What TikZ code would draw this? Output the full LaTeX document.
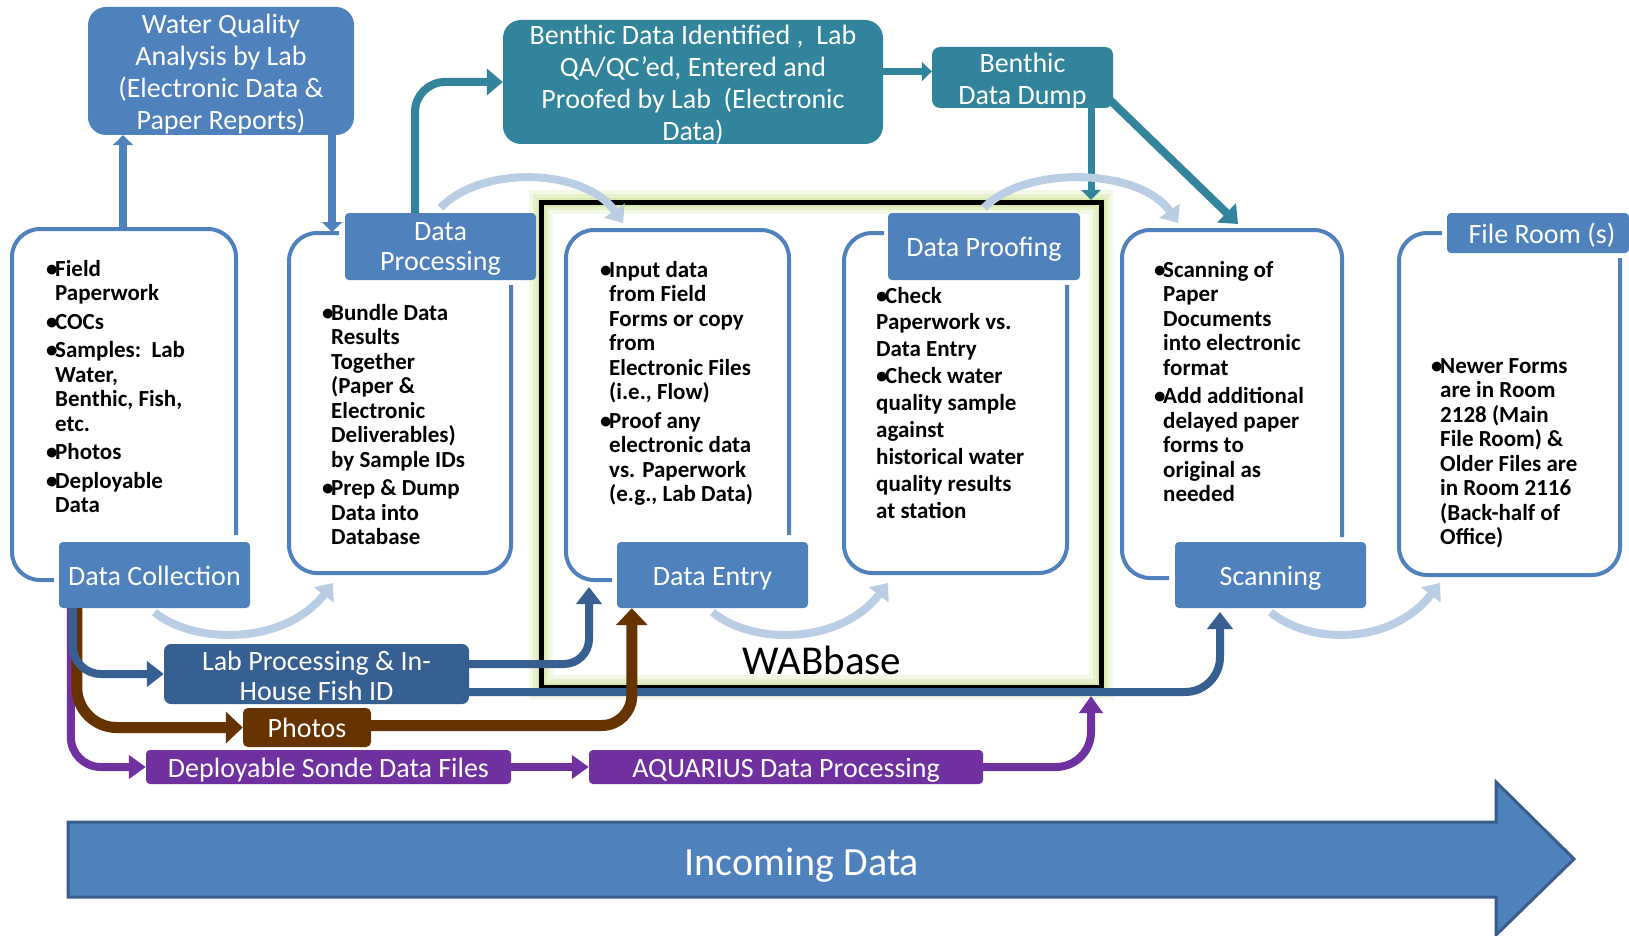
\documentclass[tikz,border=0pt]{standalone}
\usepackage{fontspec}
\setmainfont{Carlito}
\usetikzlibrary{arrows.meta}
\definecolor{mblue}{HTML}{4F81BD}
\definecolor{tealc}{HTML}{31849B}
\definecolor{dblue}{HTML}{376092}
\definecolor{brownc}{HTML}{663300}
\definecolor{purp}{HTML}{7030A0}
\definecolor{lightarc}{HTML}{B9CDE5}
\definecolor{arrowborder}{HTML}{385D8A}
\definecolor{glowa}{HTML}{F3F8E6}
\definecolor{glowb}{HTML}{E6F1C9}
\definecolor{glowc}{HTML}{D9E9AF}
\newcommand{\bi}{\par\hangindent=9pt\hangafter=1\noindent\makebox[9pt][l]{•}}
\newcommand{\bj}{\par\noindent\makebox[9pt][l]{•}}
\newcommand{\bodybox}[1]{\parbox[t]{250pt}{\raggedright\setlength{\parskip}{4pt}#1}}
\newcommand{\bodyboxtight}[1]{\parbox[t]{250pt}{\raggedright\setlength{\parskip}{0pt}#1}}
\begin{document}
\begin{tikzpicture}[x=1pt,y=-1pt]
\tikzset{
 lbl/.style={fill=mblue, text=white, rounded corners=4pt, inner sep=0pt, align=center, font=\fontsize{28}{30}\selectfont},
 one/.style={text height=20pt, text depth=0pt},
 bigbox/.style={lbl, font=\fontsize{28}{32}\selectfont, rounded corners=18pt},
 tealbox/.style={bigbox, fill=tealc},
 outl/.style={draw=mblue, line width=4pt, rounded corners=28pt},
 bodytxt/.style={anchor=base west, inner sep=0pt, font=\fontsize{23}{24.5}\selectfont\bfseries},
 blarrow/.style={draw=mblue, line width=8pt, -{Triangle[width=20pt,length=10pt]}},
 tlarrow/.style={draw=tealc, line width=8pt, -{Triangle[width=26pt,length=16pt]}},
 tlsmall/.style={draw=tealc, line width=7pt, -{Triangle[width=19pt,length=10pt]}},
 arcarrow/.style={draw=lightarc, line width=8pt, -{Triangle[width=24pt,length=15pt]}},
 dbarrow/.style={draw=dblue, line width=8pt, -{Triangle[width=25pt,length=17pt]}},
 brarrow/.style={draw=brownc, line width=11pt, -{Triangle[width=31pt,length=17pt]}},
 puarrow/.style={draw=purp, line width=8pt, -{Triangle[width=23pt,length=17pt]}},
}
\fill[white] (0,0) rectangle (1629,936);
\useasboundingbox (0,0) rectangle (1629,936);

% WABbase region
\draw[glowa, line width=24pt] (541,202) rectangle (1101,687);
\draw[glowb, line width=16pt] (541,202) rectangle (1101,687);
\draw[glowc, line width=9pt] (541,202) rectangle (1101,687);
\node[draw=black, line width=5pt, minimum width=560pt, minimum height=485pt, inner sep=0pt] (wab) at (821,444.5) {};
\node[font=\fontsize{41}{41}\selectfont, inner sep=0pt] (wabt) at (822,660) {WABbase};

% outline boxes
\draw[outl] (236,535) -- (236,229) -- (12,229) -- (12,580) -- (54,580);
\draw[outl] (339,233) -- (289,233) -- (289,573) -- (511,573) -- (511,285);
\draw[outl] (789,535) -- (789,230) -- (566,230) -- (566,580) -- (612,580);
\draw[outl] (884,233) -- (844,233) -- (844,573) -- (1067,573) -- (1067,285);
\draw[outl] (1342,537) -- (1342,230) -- (1122,230) -- (1122,578) -- (1169,578);
\draw[outl] (1442,233) -- (1399,233) -- (1399,575) -- (1620,575) -- (1620,258);

% body texts
\node[bodytxt] (dctxt) at (46,276) {\bodybox{%
\bi Field\newline Paperwork
\bi COCs
\bi Samples:\ \ Lab\newline Water,\newline Benthic, Fish,\newline etc.
\bi Photos
\bi Deployable\newline Data}};
\node[bodytxt] (dptxt) at (322,320) {\bodybox{%
\bi Bundle Data\newline Results\newline Together\newline (Paper \&\newline Electronic\newline Deliverables)\newline by Sample IDs
\bi Prep \& Dump\newline Data into\newline Database}};
\node[bodytxt] (detxt) at (600,277) {\bodybox{%
\bi Input data\newline from Field\newline Forms or copy\newline from\newline Electronic Files\newline (i.e., Flow)
\bi Proof any\newline electronic data\newline vs. Paperwork\newline (e.g., Lab Data)}};
\node[bodytxt, font=\fontsize{23}{26.9}\selectfont\bfseries] (dpftxt) at (876,303) {\bodyboxtight{%
\bj Check\newline Paperwork vs.\newline Data Entry
\bj Check water\newline quality sample\newline against\newline historical water\newline quality results\newline at station}};
\node[bodytxt] (sctxt) at (1154,277) {\bodybox{%
\bi Scanning of\newline Paper\newline Documents\newline into electronic\newline format
\bi Add additional\newline delayed paper\newline forms to\newline original as\newline needed}};
\node[bodytxt] (frtxt) at (1431,373) {\bodybox{%
\bi Newer Forms\newline are in Room\newline 2128 (Main\newline File Room) \&\newline Older Files are\newline in Room 2116\newline (Back-half of\newline Office)}};

% label boxes
\node[lbl, one, minimum width=191pt, minimum height=66pt] (dc) at (154.5,575) {Data Collection};
\node[lbl, minimum width=191pt, minimum height=67pt] (dpl) at (440.5,246.5) {};
\node[lbl, inner sep=0pt] (dplt) at (440.5,248.5) {Data\\Processing};
\node[lbl, one, minimum width=191pt, minimum height=66pt] (de) at (712.5,575) {Data Entry};
\node[lbl, one, minimum width=192pt, minimum height=67pt] (dpf) at (984,246.5) {Data Proofing};
\node[lbl, one, minimum width=191pt, minimum height=66pt] (scan) at (1270.5,575) {Scanning};
\node[lbl, one, minimum width=182pt, minimum height=40pt] (fr) at (1538,233) {\hspace*{8pt}File Room (s)};

% top boxes
\node[bigbox, minimum width=266pt, minimum height=128pt] (wq) at (221,71) {};
\node[bigbox, fill=none, inner sep=0pt] (wqt) at (221,74) {Water Quality\\Analysis by Lab\\(Electronic Data \&\\Paper Reports)};
\node[tealbox, minimum width=380pt, minimum height=124pt] (bent) at (693,82) {};
\node[tealbox, fill=none, inner sep=0pt] (bentt) at (693,85) {Benthic Data Identified ,\ \ Lab\\QA/QC’ed, Entered and\\Proofed by Lab\ \ (Electronic\\Data)};
\node[tealbox, rounded corners=8pt, minimum width=181pt, minimum height=61pt] (dump) at (1022.5,77.5) {};
\node[tealbox, fill=none, inner sep=0pt] (dumpt) at (1022.5,81) {Benthic\\Data Dump};

% coordinates
\coordinate (dcup) at (123,229);
\coordinate (dpin) at (332,232);
\coordinate (wabdn) at (1091,200);
\coordinate (scanin) at (1238,224);
\coordinate (a1) at (333,583);
\coordinate (a2) at (623,223);
\coordinate (a3) at (888,583);
\coordinate (a4) at (1178,223);
\coordinate (a5) at (1440,583);
\coordinate (deup) at (589,587);
\coordinate (scanup) at (1220,612);
\coordinate (wabup) at (1091,696);
\path ([yshift=6pt]dump.west) coordinate (dumpin);

% blue arrows to/from WQ
\draw[blarrow] (dcup) -- (wq.south -| dcup);
\draw[blarrow] (wq.south -| dpin) -- (dpin);

% teal arrows
\draw[tlarrow, rounded corners=30pt] ([xshift=-25.5pt]dpl.north) |- (bent.west);
\draw[tlsmall] (bent.east |- dumpin) -- (dumpin);
\draw[tlsmall] (dump.south -| wabdn) -- (wabdn);
\draw[tlarrow] ([yshift=8pt,xshift=-3pt]dump.south east) -- (scanin);

% light process arcs
\draw[arcarrow] ([yshift=-4pt]dc.south) .. controls +(40,33) and +(-48,62) .. (a1);
\draw[arcarrow] ([yshift=5pt]dpl.north) .. controls +(41,-43) and +(-38,-55) .. (a2);
\draw[arcarrow] ([yshift=-4pt]de.south) .. controls +(40,33) and +(-48,62) .. (a3);
\draw[arcarrow] ([yshift=5pt]dpf.north) .. controls +(41,-43) and +(-38,-55) .. (a4);
\draw[arcarrow] ([yshift=-4pt]scan.south) .. controls +(40,33) and +(-48,62) .. (a5);

% lower boxes
\node[lbl, fill=dblue, rounded corners=7pt, minimum width=305pt, minimum height=60pt] (lp) at (316.5,674) {};
\node[lbl, fill=none, inner sep=0pt] (lpt) at (316.5,675.5) {Lab Processing \& In-\\House Fish ID};
\node[lbl, one, fill=brownc, rounded corners=5pt, minimum width=128pt, minimum height=39pt] (ph) at (307,727.5) {Photos};
\node[lbl, one, fill=purp, rounded corners=4pt, minimum width=365pt, minimum height=34pt] (sonde) at (328.5,767) {Deployable Sonde Data Files};
\node[lbl, one, fill=purp, rounded corners=4pt, minimum width=394pt, minimum height=34pt] (aq) at (786,767) {AQUARIUS Data Processing};

% connectors from Data Collection
\draw[puarrow, rounded corners=30pt] ([xshift=12pt]dc.south west) |- (sonde.west);
\draw[brarrow, rounded corners=40pt] ([xshift=18pt]dc.south west) |- (ph.west);
\draw[dbarrow, rounded corners=28pt] ([xshift=14pt]dc.south west) |- (lp.west);

% connectors to WABbase stages
\draw[dbarrow, rounded corners=25pt] ([yshift=10pt]lp.east) -| (deup);
\draw[dbarrow, rounded corners=35pt] ([yshift=-18pt]lp.east) -| (scanup);
\draw[brarrow, rounded corners=30pt] ([yshift=2pt]ph.east) -| ([xshift=15pt]de.south west);
\draw[puarrow] (sonde.east) -- (aq.west);
\draw[puarrow, rounded corners=35pt] (aq.east) -| (wabup);

% incoming data arrow
\draw[fill=mblue, draw=arrowborder, line width=3pt] (68,822) -- (1496,822) -- (1496,782) -- (1574,859) -- (1496,935) -- (1496,897) -- (68,897) -- cycle;
\node[text=white, font=\fontsize{40}{40}\selectfont, inner sep=0pt, text height=28pt, text depth=0pt] (inc) at (802,861) {Incoming Data};
\end{tikzpicture}
\end{document}
